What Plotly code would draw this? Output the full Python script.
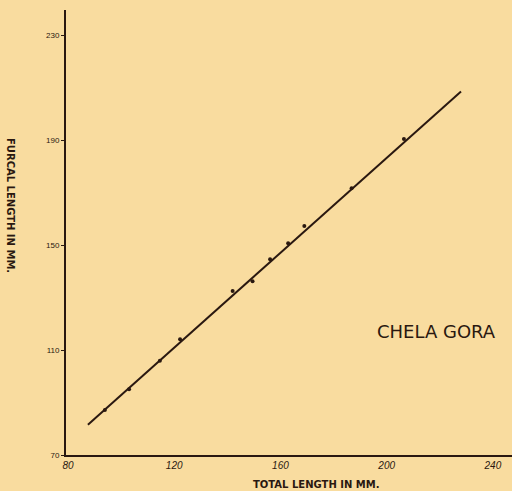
import plotly.graph_objects as go

# Observed specimens: total length vs furcal length (mm)
total_length = [93.9, 103.0, 114.6, 122.2, 142.0, 149.5, 156.1, 162.9, 169.0, 186.8, 206.5]
furcal_length = [87.2, 95.1, 106.0, 114.2, 132.6, 136.3, 144.7, 150.8, 157.4, 171.8, 190.6]

# Hand-drawn fitted line end points
line_x = [87.5, 228.0]
line_y = [81.5, 208.7]

x_ticks = [80, 120, 160, 200, 240]
y_ticks = [70, 110, 150, 190, 230]

ink = "#2a1810"
paper = "#f9dc9f"

fig = go.Figure()
fig.add_trace(go.Scatter(x=line_x, y=line_y, mode="lines",
                         line=dict(color=ink, width=2), hoverinfo="skip"))
fig.add_trace(go.Scatter(x=total_length, y=furcal_length, mode="markers",
                         marker=dict(color=ink, size=4)))

fig.update_layout(
    width=512, height=491,
    margin=dict(l=66, r=0, t=10, b=36, autoexpand=False),
    paper_bgcolor=paper, plot_bgcolor=paper,
    showlegend=False,
    font=dict(family="Liberation Sans", color=ink),
)
fig.update_xaxes(range=[79.25, 247.2], tickvals=x_ticks, ticktext=[str(v) for v in x_ticks],
                 showgrid=False, zeroline=False, showline=True, linecolor=ink, linewidth=2,
                 automargin=False, ticks="", tickfont=dict(size=10, style="italic", color=ink))
fig.update_yaxes(range=[70, 239.8], tickvals=y_ticks, ticktext=[str(v) for v in y_ticks],
                 showgrid=False, zeroline=False, showline=True, linecolor=ink, linewidth=2,
                 automargin=False, ticks="outside", ticklen=3, tickcolor=ink, tickwidth=1,
                 tickfont=dict(size=8, color=ink))

fig.add_annotation(text="CHELA GORA", x=436, y=331,
                   font=dict(family="DejaVu Sans", size=18, color=ink))
fig.add_annotation(text="<b>TOTAL LENGTH IN MM.</b>", x=316, y=484,
                   font=dict(family="DejaVu Sans", size=10, color=ink))
fig.add_annotation(text="<b>FURCAL LENGTH IN MM.</b>", x=10, y=205, textangle=90,
                   font=dict(family="DejaVu Sans", size=10, color=ink))

# convert pixel-placed annotations to paper coordinates
pw, ph = 512 - 66, 491 - 10 - 36
for a in fig.layout.annotations:
    px, py = a.x, a.y
    a.update(x=(px - 66) / pw, y=(455 - py) / ph, xref="paper", yref="paper",
             xanchor="center", yanchor="middle", showarrow=False)

fig.write_html("out.html", config={"displayModeBar": False},
               post_script="document.body.style.margin='0';document.body.style.overflow='hidden';")
